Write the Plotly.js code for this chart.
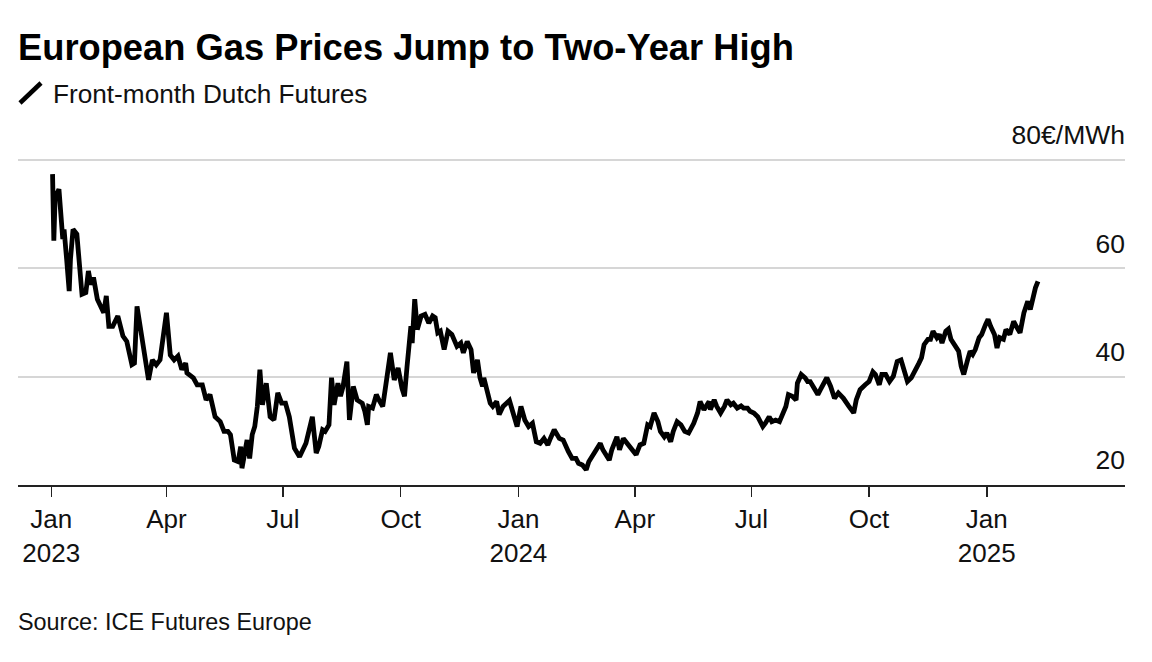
<!DOCTYPE html>
<html>
<head>
<meta charset="utf-8">
<script src="https://cdn.plot.ly/plotly-3.0.1.min.js"></script>
<style>
  html, body { margin: 0; padding: 0; background: #fff; }
  #chart { width: 1152px; height: 662px; }
</style>
</head>
<body>
<div id="chart"></div>
<script>
// ---- Data ----
const titleText = "European Gas Prices Jump to Two-Year High";
const seriesName = "Front-month Dutch Futures";
const sourceText = "Source: ICE Futures Europe";

const dates = [
  "2023-01-02","2023-01-03","2023-01-04","2023-01-07","2023-01-10","2023-01-11","2023-01-13","2023-01-15","2023-01-16","2023-01-18",
  "2023-01-21","2023-01-23","2023-01-25","2023-01-28","2023-01-30","2023-02-01","2023-02-03","2023-02-06","2023-02-09","2023-02-11",
  "2023-02-13","2023-02-15","2023-02-18","2023-02-22","2023-02-26","2023-03-01","2023-03-05","2023-03-07","2023-03-09","2023-03-12",
  "2023-03-14","2023-03-16","2023-03-18","2023-03-21","2023-03-24","2023-03-27","2023-04-01","2023-04-04","2023-04-07","2023-04-10",
  "2023-04-13","2023-04-16","2023-04-17","2023-04-22","2023-04-25","2023-04-29","2023-05-02","2023-05-05","2023-05-09","2023-05-13",
  "2023-05-16","2023-05-19","2023-05-21","2023-05-24","2023-05-27","2023-05-29","2023-05-30","2023-06-03","2023-06-05","2023-06-07",
  "2023-06-09","2023-06-11","2023-06-13","2023-06-15","2023-06-18","2023-06-21","2023-06-24","2023-06-27","2023-06-30","2023-07-03",
  "2023-07-06","2023-07-10","2023-07-14","2023-07-19","2023-07-24","2023-07-27","2023-07-29","2023-08-01","2023-08-03","2023-08-06",
  "2023-08-08","2023-08-10","2023-08-13","2023-08-15","2023-08-17","2023-08-20","2023-08-22","2023-08-25","2023-08-28","2023-09-01",
  "2023-09-03","2023-09-05","2023-09-06","2023-09-09","2023-09-12","2023-09-14","2023-09-17","2023-09-20","2023-09-23","2023-09-26",
  "2023-09-29","2023-10-02","2023-10-04","2023-10-06","2023-10-09","2023-10-10","2023-10-12","2023-10-14","2023-10-17","2023-10-20",
  "2023-10-23","2023-10-26","2023-10-28","2023-10-30","2023-11-01","2023-11-04","2023-11-07","2023-11-10","2023-11-14","2023-11-17",
  "2023-11-19","2023-11-22","2023-11-25","2023-11-27","2023-11-30","2023-12-02","2023-12-04","2023-12-05","2023-12-07","2023-12-10",
  "2023-12-12","2023-12-15","2023-12-17","2023-12-20","2023-12-25","2023-12-28","2023-12-31","2024-01-03","2024-01-06","2024-01-09",
  "2024-01-12","2024-01-15","2024-01-18","2024-01-21","2024-01-24","2024-01-26","2024-01-29","2024-02-02","2024-02-05","2024-02-09",
  "2024-02-12","2024-02-15","2024-02-17","2024-02-20","2024-02-23","2024-02-25","2024-02-28","2024-03-01","2024-03-05","2024-03-07",
  "2024-03-12","2024-03-14","2024-03-18","2024-03-20","2024-03-23","2024-03-26","2024-03-30","2024-04-02","2024-04-05","2024-04-08",
  "2024-04-11","2024-04-13","2024-04-16","2024-04-19","2024-04-21","2024-04-24","2024-04-26","2024-04-29","2024-05-01","2024-05-04",
  "2024-05-07","2024-05-10","2024-05-13","2024-05-17","2024-05-20","2024-05-22","2024-05-25","2024-05-29","2024-05-30","2024-06-02",
  "2024-06-04","2024-06-07","2024-06-10","2024-06-12","2024-06-15","2024-06-17","2024-06-20","2024-06-23","2024-06-25","2024-06-28",
  "2024-06-30","2024-07-03","2024-07-06","2024-07-08","2024-07-10","2024-07-12","2024-07-15","2024-07-17","2024-07-20","2024-07-23",
  "2024-07-25","2024-07-28","2024-07-30","2024-08-02","2024-08-05","2024-08-06","2024-08-09","2024-08-12","2024-08-14","2024-08-16",
  "2024-08-19","2024-08-22","2024-08-24","2024-08-27","2024-08-29","2024-09-01","2024-09-04","2024-09-07","2024-09-09","2024-09-11",
  "2024-09-15","2024-09-19","2024-09-21","2024-09-24","2024-09-28","2024-10-01","2024-10-04","2024-10-06","2024-10-09","2024-10-11",
  "2024-10-14","2024-10-17","2024-10-20","2024-10-23","2024-10-26","2024-10-28","2024-10-31","2024-11-03","2024-11-06","2024-11-09",
  "2024-11-11","2024-11-13","2024-11-16","2024-11-18","2024-11-20","2024-11-23","2024-11-25","2024-11-27","2024-11-30","2024-12-02",
  "2024-12-04","2024-12-07","2024-12-10","2024-12-12","2024-12-14","2024-12-17","2024-12-19","2024-12-21","2024-12-23","2024-12-26",
  "2024-12-28","2024-12-31","2025-01-02","2025-01-04","2025-01-07","2025-01-09","2025-01-11","2025-01-14","2025-01-16","2025-01-19",
  "2025-01-22","2025-01-24","2025-01-27","2025-01-30","2025-02-02","2025-02-04","2025-02-06","2025-02-08","2025-02-10"
];

const prices = [
  77.4,65.1,73.1,74.6,65.4,67.2,61.7,55.8,61.7,67.2,
  66.3,59.8,55.2,55.5,59.5,57.0,58.3,54.3,53.0,51.8,
  54.9,49.3,49.3,51.2,47.5,46.5,42.2,42.5,53.0,48.1,
  44.4,42.5,39.4,43.1,42.2,43.1,51.8,44.0,43.1,43.8,
  41.3,42.5,40.7,39.8,38.5,38.5,35.7,36.7,32.6,31.7,
  29.9,29.9,29.3,24.6,24.3,27.1,23.1,28.3,24.9,29.3,
  30.8,34.5,41.3,34.8,38.8,32.6,32.0,37.0,35.1,35.1,
  32.6,26.8,25.2,27.7,32.6,25.9,27.1,30.2,29.9,31.1,
  39.8,34.8,38.8,36.4,38.2,42.8,32.0,38.2,35.7,35.1,
  33.6,31.1,34.5,34.2,36.7,35.7,34.5,39.4,44.4,39.4,
  41.6,37.9,36.4,41.9,49.3,46.2,54.3,48.7,51.2,51.5,
  49.9,51.2,50.9,48.1,48.4,45.0,48.4,47.8,45.6,46.2,
  44.4,46.5,45.0,40.7,43.1,39.8,38.2,39.8,37.6,35.1,
  34.5,35.4,33.0,34.5,35.6,33.0,30.8,34.5,32.0,30.8,
  31.4,28.0,27.7,28.6,27.4,28.6,30.2,28.6,28.3,26.2,
  24.9,24.9,24.0,23.7,22.8,24.3,25.6,26.2,27.7,26.5,
  24.6,26.5,28.9,26.5,28.6,27.7,26.8,25.6,27.4,27.7,
  31.1,30.8,33.3,31.7,29.9,28.9,29.6,28.0,29.9,31.7,
  31.1,29.9,29.6,31.4,33.3,35.4,33.9,35.4,33.9,35.7,
  34.5,33.3,34.5,35.7,34.8,35.1,34.2,34.6,34.2,34.2,
  33.6,33.3,32.6,31.7,30.8,31.4,32.6,31.7,32.0,31.7,
  33.0,34.5,36.7,36.4,35.7,38.8,40.4,39.8,39.1,39.1,
  37.9,36.7,37.6,38.8,39.8,38.2,36.0,37.0,36.5,36.0,
  34.6,33.3,35.7,37.6,38.5,39.1,40.9,40.4,38.5,40.4,
  40.4,39.1,40.1,42.8,43.1,41.6,39.1,39.8,41.0,42.5,
  43.5,45.9,46.9,46.9,48.4,47.2,47.8,46.2,48.4,48.8,
  46.9,45.9,44.7,41.9,40.4,43.1,44.7,44.1,45.0,47.2,
  47.8,49.6,50.6,49.3,47.8,45.3,47.2,46.9,48.7,47.8,
  50.2,49.3,48.1,51.8,53.9,52.4,54.6,56.4,57.6
];

const xTickVals = ["2023-01-01","2023-04-01","2023-07-01","2023-10-01","2024-01-01","2024-04-01","2024-07-01","2024-10-01","2025-01-01"];
const xTickText = ["Jan<br>2023","Apr","Jul","Oct","Jan<br>2024","Apr","Jul","Oct","Jan<br>2025"];
const yTickVals = [20, 40, 60, 80];
const yTickText = ["20", "40", "60", "80€/MWh"];

// ---- Layout geometry helpers (plot area in px) ----
const PL = 18, PR = 1125, PT = 158, PB = 485;
const px2x = p => (p - PL) / (PR - PL);
const px2y = p => (PB - p) / (PB - PT);

const FONT = "Liberation Sans, Arial, Helvetica, sans-serif";

const trace = {
  x: dates,
  y: prices,
  type: "scatter",
  mode: "lines",
  line: { color: "#000000", width: 4.8, shape: "linear" },
  hoverinfo: "skip",
  showlegend: false
};

const layout = {
  width: 1152,
  height: 662,
  margin: { l: PL, r: 1152 - PR, t: PT, b: 662 - PB, pad: 0 },
  paper_bgcolor: "#ffffff",
  plot_bgcolor: "#ffffff",
  font: { family: FONT, color: "#111111", size: 26 },
  showlegend: false,
  hovermode: false,
  xaxis: {
    type: "date",
    range: ["2022-12-06", "2025-04-19"],
    tickmode: "array",
    tickvals: xTickVals,
    ticktext: xTickText,
    ticks: "outside",
    ticklen: 10,
    tickwidth: 1.5,
    tickcolor: "#222222",
    showline: true,
    linecolor: "#222222",
    linewidth: 2,
    showgrid: false,
    zeroline: false,
    tickfont: { family: FONT, size: 26, color: "#111111" },
    fixedrange: true
  },
  yaxis: {
    range: [20, 80.37],
    side: "right",
    tickmode: "array",
    tickvals: yTickVals,
    ticktext: yTickText,
    ticks: "",
    showline: false,
    showgrid: true,
    gridcolor: "#d6d6d6",
    gridwidth: 2,
    zeroline: false,
    ticklabelposition: "inside",
    ticklabeloverflow: "allow",
    ticklabelshift: -25,
    ticklabelstandoff: -3,
    tickfont: { family: FONT, size: 26.5, color: "#111111" },
    fixedrange: true
  },
  annotations: [
    {
      text: "<b>" + titleText + "</b>",
      xref: "paper", yref: "paper",
      x: px2x(16), y: px2y(47),
      xanchor: "left", yanchor: "middle",
      showarrow: false,
      font: { family: FONT, size: 36.3, color: "#000000" }
    },
    {
      text: seriesName,
      xref: "paper", yref: "paper",
      x: px2x(51), y: px2y(94),
      xanchor: "left", yanchor: "middle",
      showarrow: false,
      font: { family: FONT, size: 26.2, color: "#111111" }
    },
    {
      text: sourceText,
      xref: "paper", yref: "paper",
      x: px2x(16), y: px2y(622),
      xanchor: "left", yanchor: "middle",
      showarrow: false,
      font: { family: FONT, size: 23.4, color: "#111111" }
    }
  ],
  shapes: [
    {
      type: "line",
      xref: "paper", yref: "paper",
      x0: px2x(20), y0: px2y(103),
      x1: px2x(41), y1: px2y(83),
      line: { color: "#000000", width: 4.5 }
    }
  ]
};

Plotly.newPlot("chart", [trace], layout, { displayModeBar: false, staticPlot: true });
</script>
</body>
</html>
